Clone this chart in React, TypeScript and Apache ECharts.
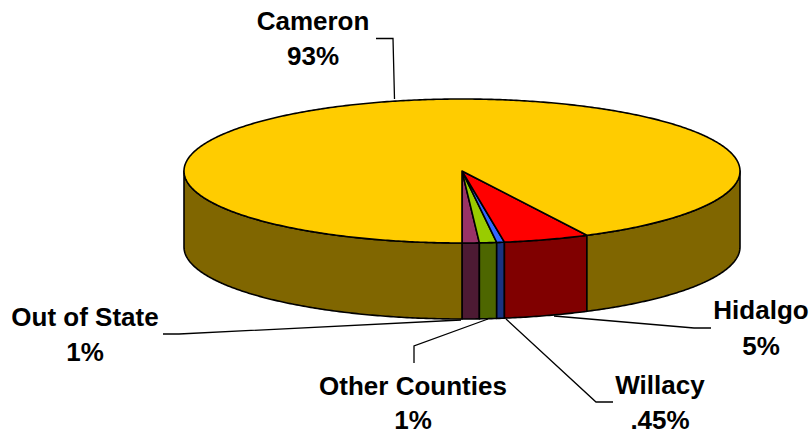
import React, { useEffect, useRef } from "react";
import * as echarts from "echarts";

// County shares, in the order they run round the disc from its front centre.
const counties = ["Out of State", "Other Counties", "Willacy", "Hidalgo", "Cameron"];
const shares = [1, 1, 0.45, 5, 93];
const shareLabels = ["1%", "1%", ".45%", "5%", "93%"];
const topColors = ["#993366", "#99CC00", "#3366FF", "#FF0000", "#FFCC00"];
const sideColors = ["#4D1A33", "#4D6600", "#1A3380", "#800000", "#806600"];

// Callout placement per county: name centre, baselines and the leader line's points.
const callouts = [
  { x: 85, y1: 317, y2: 352, leader: [[163, 334], [179, 334], [461, 320]] },
  { x: 413, y1: 386, y2: 420, leader: [[414, 363], [414, 346], [488, 319]] },
  { x: 660, y1: 385, y2: 420, leader: [[613, 402], [596, 402], [506, 319]] },
  { x: 761, y1: 310, y2: 346, leader: [[711, 328], [694, 328], [554, 316]] },
  { x: 313, y1: 21, y2: 56, leader: [[376, 38.5], [393, 38.5], [394.5, 99]] },
];

// Disc geometry of the tilted pie.
const CX = 462;
const CY = 171;
const RX = 278;
const RY = 72;
const DEPTH = 76;
const FONT = '"Liberation Sans", Arial, sans-serif';

const total = shares.reduce((a, b) => a + b, 0);

// Angle 0 is the front of the disc; angles grow towards the right-hand side.
const rim = (t: number, drop = 0): number[] => [
  CX + RX * Math.sin(t),
  CY + RY * Math.cos(t) + drop,
];

const arc = (from: number, to: number, drop = 0): number[][] => {
  const steps = Math.max(2, Math.ceil(Math.abs(to - from) / 0.01));
  const pts: number[][] = [];
  for (let i = 0; i <= steps; i++) pts.push(rim(from + ((to - from) * i) / steps, drop));
  return pts;
};

// A wall piece only shows while the rim is on the front half of the disc.
const frontSpans = (a: number, b: number): number[][] => {
  const spans: number[][] = [];
  const lo = Math.max(a, 0);
  const hi = Math.min(b, Math.PI / 2);
  if (hi > lo) spans.push([lo, hi]);
  const lo2 = Math.max(a, 1.5 * Math.PI);
  const hi2 = Math.min(b, 2 * Math.PI);
  if (hi2 > lo2) spans.push([lo2, hi2]);
  return spans;
};

const outline = { stroke: "#000", lineWidth: 1.6, lineJoin: "round" as const };

const renderSlice = (params: any, api: any) => {
  const i = params.dataIndex;
  const before = shares.slice(0, i).reduce((a, b) => a + b, 0);
  const a = (before / total) * 2 * Math.PI;
  const b = a + (api.value(0) / total) * 2 * Math.PI;
  const children: any[] = frontSpans(a, b).map(([s, e]) => ({
    type: "polygon",
    shape: { points: [...arc(s, e), ...arc(e, s, DEPTH)] },
    style: { fill: sideColors[i], ...outline },
  }));
  children.push({
    type: "polygon",
    shape: { points: [[CX, CY], ...arc(a, b)] },
    style: { fill: topColors[i], ...outline },
  });
  return { type: "group", children };
};

const calloutGraphics = counties.flatMap((name, i) => {
  const c = callouts[i];
  const text = (t: string, y: number) => ({
    type: "text",
    x: c.x,
    y,
    style: {
      text: t,
      fill: "#000",
      font: `bold 26px ${FONT}`,
      align: "center",
      verticalAlign: "middle",
    },
  });
  return [
    {
      type: "polyline",
      shape: { points: c.leader },
      style: { stroke: "#000", lineWidth: 1.3, fill: "none" },
    },
    text(name, c.y1),
    text(shareLabels[i], c.y2),
  ];
});

export default function App() {
  const ref = useRef<HTMLDivElement>(null);

  useEffect(() => {
    const chart = echarts.init(ref.current!, undefined, { renderer: "svg" });
    chart.setOption({
      animation: false,
      backgroundColor: "#fff",
      series: [
        {
          type: "custom",
          coordinateSystem: "none",
          data: shares.map((v) => [v]),
          renderItem: renderSlice,
          silent: true,
        },
      ],
      graphic: calloutGraphics,
    });
    return () => chart.dispose();
  }, []);

  return (
    <div
      ref={ref}
      style={{ position: "absolute", left: 0, top: 0, width: 811, height: 434 }}
    />
  );
}
